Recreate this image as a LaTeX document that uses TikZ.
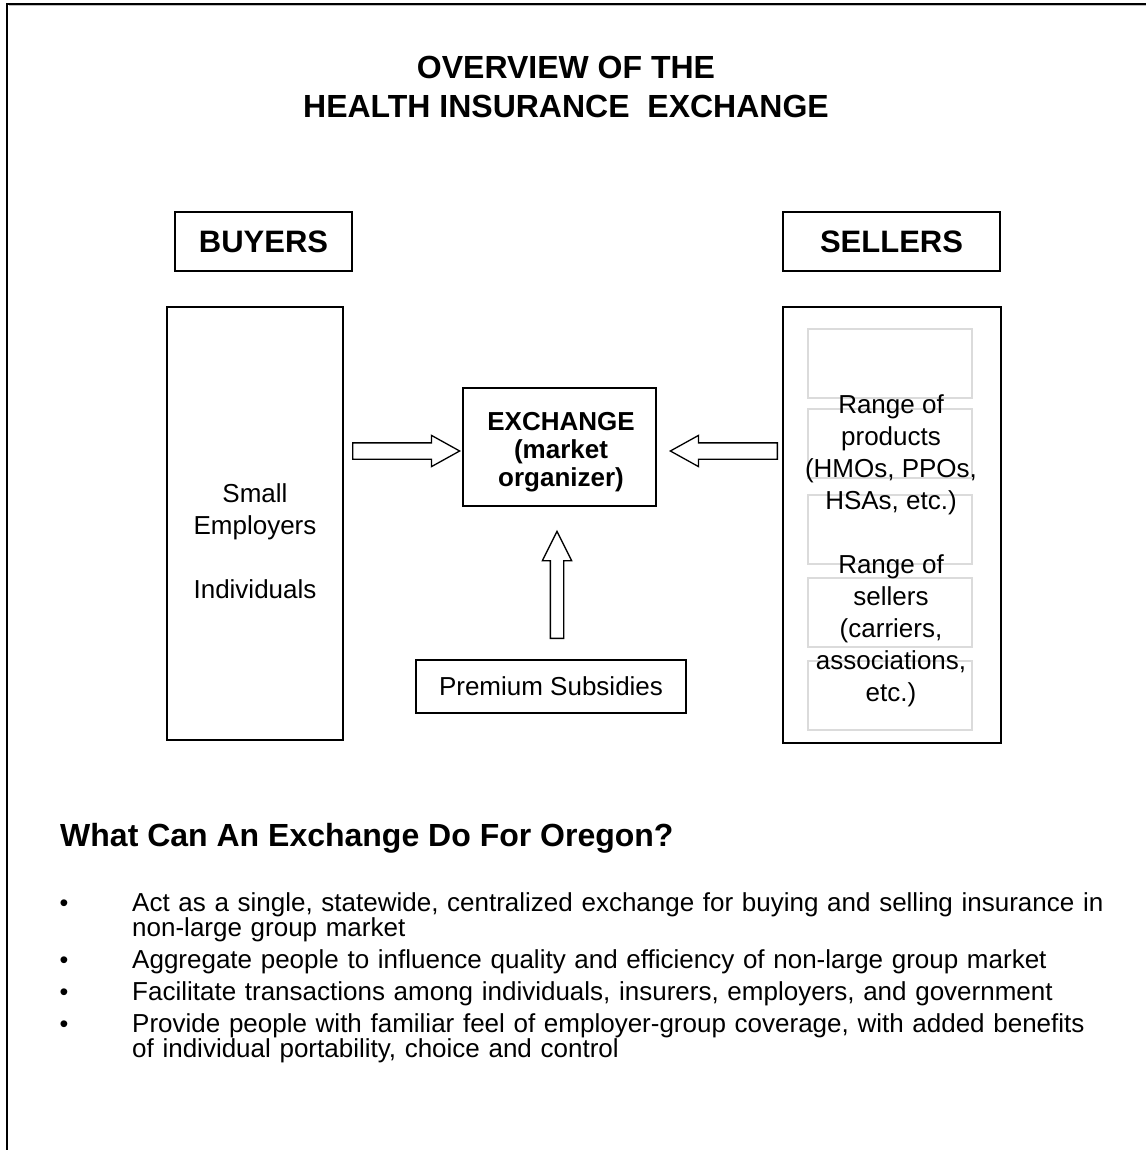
\documentclass[tikz,border=0pt]{standalone}
\usepackage{fontspec}
\setmainfont{Liberation Sans}
\usetikzlibrary{shapes.arrows}

\begin{document}
\begin{tikzpicture}[x=1pt,y=-1pt,
box/.style={draw,line width=1.5pt,rectangle,inner sep=0pt},
headbox/.style={box,minimum width=177pt,minimum height=59pt,
    font=\fontsize{31}{36}\selectfont\bfseries},
slot/.style={draw=black!14,line width=1.5pt,rectangle,
    minimum width=164pt,minimum height=69pt},
txt/.style={align=center,inner sep=0pt,font=\fontsize{26}{32}\selectfont},
flow/.style={draw,line width=1.3pt,fill=white,single arrow,inner sep=7.5pt,
    minimum height=107pt,minimum width=30pt,anchor=tail,
    single arrow head extend=7.5pt,single arrow tip angle=58},
point/.style={anchor=base west,align=left,inner sep=0pt,text width=1000pt,
    font=\fontsize{26}{23.5}\selectfont}]

\useasboundingbox (0,0) rectangle (1145,1150);
% page frame, runs off the right and bottom
\draw[line width=2pt] (7,1160) -- (7,4) -- (1160,4);
\draw[black!25,line width=1pt] (9,6) -- (1160,6);

\node (title) [txt,font=\fontsize{32}{39}\selectfont\bfseries] at (566,87)
  {OVERVIEW OF THE\\HEALTH INSURANCE\ \ EXCHANGE};

\node (buyers) [headbox] at (263.5,241.5) {BUYERS};
\node (sellers) [headbox,minimum width=217pt] at (891.5,241.5) {SELLERS};

% buyers side
\node (buyerbox) [box,minimum width=176pt,minimum height=433pt] at (255,523.5) {};
\node (buyertext) [txt] at (255,541.5)
  {Small\\Employers\\[32pt]Individuals};

% sellers side
\node (sellerbox) [box,minimum width=218pt,minimum height=436pt] at (892,525) {};
\foreach \y [count=\i] in {363.5,443.5,529.5,612.5,695.5}
  \node (slot\i) [slot] at (890,\y) {};
\node (products) [txt] at (891,455) {Range of\\products\\(HMOs, PPOs,\\HSAs, etc.)};
\node (carriers) [txt] at (891,631) {Range of\\sellers\\(carriers,\\associations,\\etc.)};

% middle
\node (exchange) [box,minimum width=193pt,minimum height=118pt] at (559.5,447) {};
\node (exchangetext) [txt,font=\fontsize{26}{28}\selectfont\bfseries] at (561,452.5)
  {EXCHANGE\\(market\\organizer)};
\node (subsidies) [box,minimum width=270pt,minimum height=53pt,
  font=\fontsize{26}{31}\selectfont] at (551,686.5) {Premium Subsidies};

\node (buyflow) [flow] at (352,451) {};
\node (sellflow) [flow,shape border rotate=180] at (778,451) {};
\node (subflow) [flow,shape border rotate=90,inner sep=6pt,minimum width=28pt,
  single arrow head extend=8pt,single arrow tip angle=53] at (557,639) {};

% what it does
\node (question) [anchor=base west,inner sep=0pt,
  font=\fontsize{32}{38}\selectfont\bfseries] at (60,846)
  {What Can An Exchange Do For Oregon?};
\foreach \y/\itemtext [count=\i] in {
  911/{Act as a single, statewide, centralized exchange for buying and selling insurance in\\non-large group market},
  968/{Aggregate people to influence quality and efficiency of non-large group market},
  1000/{Facilitate transactions among individuals, insurers, employers, and government},
  1032/{Provide people with familiar feel of employer-group coverage, with added benefits\\of individual portability, choice and control}}{
  \node (dot\i) [anchor=base,inner sep=0pt,font=\fontsize{25}{25}\selectfont] at (64,\y) {\textbullet};
  \node (point\i) [point] at (132,\y) {\itemtext};
}
\end{tikzpicture}
\end{document}
